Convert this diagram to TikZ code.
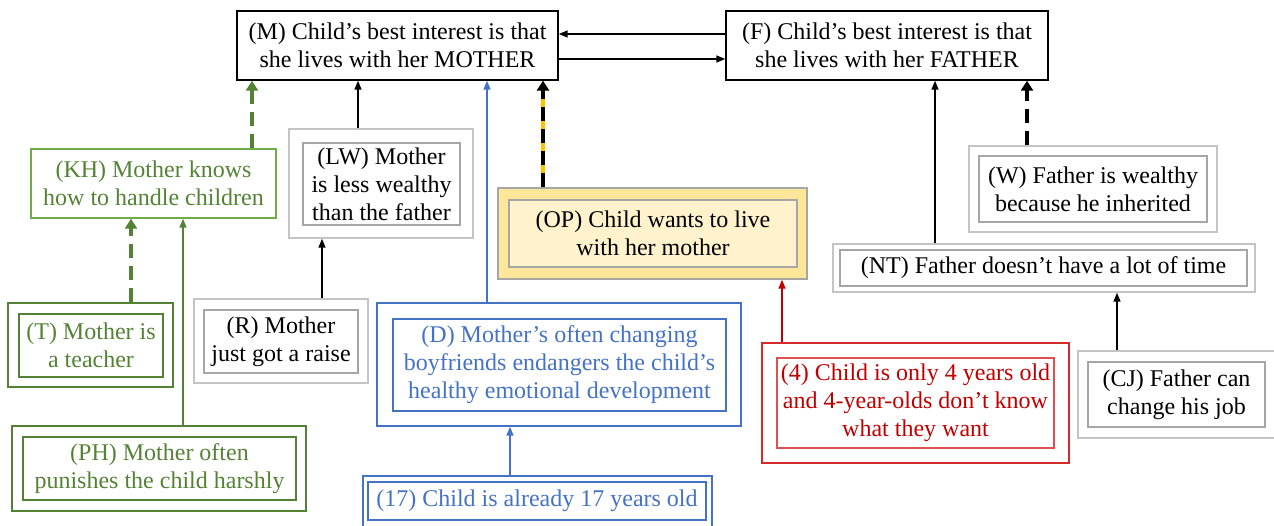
\documentclass[tikz,border=0pt]{standalone}
\usepackage{xcolor}
\usepackage{fontspec}
\setmainfont{Liberation Serif}
\usepackage{tikz}
\usetikzlibrary{arrows.meta, positioning, calc}

\definecolor{mgreen}{HTML}{548235}
\definecolor{lgreen}{HTML}{70AD47}
\definecolor{mblue}{HTML}{4472C4}
\definecolor{mred}{HTML}{C00000}
\definecolor{redline}{HTML}{D42A2A}
\definecolor{redinner}{HTML}{E05050}
\definecolor{grayout}{HTML}{C4C4C4}
\definecolor{grayin}{HTML}{A6A6A6}
\definecolor{opfill}{HTML}{FFE699}
\definecolor{opinfill}{HTML}{FFF2CC}
\definecolor{opdash}{HTML}{FFC000}

\begin{document}
\begin{tikzpicture}[
        x=0.5pt, y=-0.5pt,
        font=\fontsize{12pt}{14pt}\selectfont,
        wh/.style 2 args={minimum width=#1*0.5pt, minimum height=#2*0.5pt},
        box/.style={rectangle, inner sep=0pt, align=center, line width=0.7pt},
        claim/.style={box, draw=black},
        khbox/.style={box, draw=lgreen, text=mgreen},
        greyout/.style={box, draw=grayout},
        greyin/.style={box, draw=grayin},
        greenout/.style={box, draw=mgreen},
        greenin/.style={box, draw=mgreen, text=mgreen},
        blueout/.style={box, draw=mblue},
        bluein/.style={box, draw=mblue, text=mblue},
        redout/.style={box, draw=redline},
        redin/.style={box, draw=redinner, text=mred},
        opout/.style={box, draw=grayin, fill=opfill},
        opin/.style={box, draw=grayin, fill=opinfill},
        link/.style={-{Triangle[length=4.5pt, width=3.5pt]}, line width=0.75pt},
        strong/.style={-{Triangle[length=5pt, width=6pt]}, line width=2pt, dash pattern=on 7pt off 4pt}
    ]
    \useasboundingbox (0,0) rectangle (1274,525);
    \clip (0,0) rectangle (1274,525);

    % The two claims
    \node[claim, wh={321}{69}] (M) at (397.5,45.5) {(M) Child’s best interest is that\\she lives with her MOTHER};
    \node[claim, wh={322}{69}] (F) at (887,45.5) {(F) Child’s best interest is that\\she lives with her FATHER};

    \draw[link] (F.west |- 0,34) -- (M.east |- 0,34);
    \draw[link] (M.east |- 0,59) -- (F.west |- 0,59);

    % Mother side
    \node[khbox, wh={245}{69}] (KH) at (153.5,183.5) {(KH) Mother knows\\how to handle children};

    \node[greyout, wh={184}{109}] (LW) at (381,183.5) {};
    \node[greyin, wh={157}{82}] (LWt) at (381.5,184) {(LW) Mother\\is less wealthy\\than the father};

    \node[opout, wh={309}{91}] (OP) at (652.5,233.5) {};
    \node[opin, wh={288}{67}] (OPt) at (653,233.5) {(OP) Child wants to live\\with her mother};

    \node[greenout, wh={165}{84}] (T) at (90.5,345) {};
    \node[greenin, wh={144}{63}] (Tt) at (91,345.5) {(T) Mother is\\a teacher};

    \node[greyout, wh={174}{84}] (R) at (281,341) {};
    \node[greyin, wh={154}{63}] (Rt) at (281,341.5) {(R) Mother\\just got a raise};

    \node[blueout, wh={364}{123}] (D) at (559,364.5) {};
    \node[bluein, wh={333}{92}] (Dt) at (559.5,365) {(D) Mother’s often changing\\boyfriends endangers the child’s\\healthy emotional development};

    \node[greenout, wh={294}{85}] (PH) at (159,468.5) {};
    \node[greenin, wh={273}{63}] (PHt) at (159.5,468.5) {(PH) Mother often\\punishes the child harshly};

    \node[blueout, wh={349}{55}] (S) at (537.5,503.5) {};
    \node[bluein, wh={338}{38}] (St) at (537,501) {(17) Child is already 17 years old};

    \node[redout, wh={307}{120}] (Y) at (915.5,403) {};
    \node[redin, wh={277}{90}] (Yt) at (915.5,403) {(4) Child is only 4 years old\\and 4-year-olds don’t know\\what they want};

    \draw[strong, mgreen] (KH.north -| 252,0) -- (M.south -| 252,0);
    \draw[link] (LW.north -| 358,0) -- (M.south -| 358,0);
    \draw[link, mblue] (D.north -| 487,0) -- (M.south -| 487,0);
    % yellow under the dashes
    \draw[strong, opdash, solid] (OP.north -| 543,0) -- (M.south -| 543,0);
    \draw[strong] (OP.north -| 543,0) -- (M.south -| 543,0);
    \draw[strong, mgreen] (T.north -| 131,0) -- (KH.south -| 131,0);
    \draw[link, mgreen] (PH.north -| 183,0) -- (KH.south -| 183,0);
    \draw[link] (R.north -| 322,0) -- (LW.south -| 322,0);
    \draw[link, mblue] (S.north -| 510,0) -- (D.south -| 510,0);
    \draw[link, mred] (Y.north -| 782,0) -- (OP.south -| 782,0);

    % Father side
    \node[greyout, wh={248}{86}] (W) at (1093,189) {};
    \node[greyin, wh={228}{66}] (Wt) at (1093,189) {(W) Father is wealthy\\because he inherited};

    \node[greyout, wh={422}{48}] (NT) at (1044,268) {};
    \node[greyin, wh={407}{36}] (NTt) at (1043.5,268) {(NT) Father doesn’t have a lot of time};

    \node[greyout, wh={198}{87}] (CJ) at (1177,394.5) {};
    \node[greyin, wh={177}{65}] (CJt) at (1176.5,394.5) {(CJ) Father can\\change his job};

    \draw[link] (NT.north -| 935,0) -- (F.south -| 935,0);
    \draw[strong] (W.north -| 1027,0) -- (F.south -| 1027,0);
    \draw[link] (CJ.north -| 1117,0) -- (NT.south -| 1117,0);

\end{tikzpicture}
\end{document}
